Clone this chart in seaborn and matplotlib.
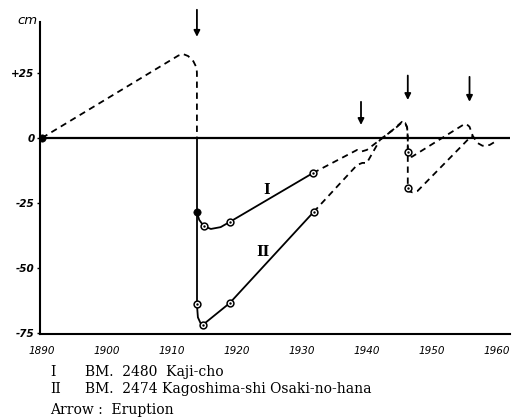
import matplotlib
matplotlib.use('Agg')
import matplotlib.pyplot as plt
import seaborn as sns

# levelling data (cm)
common_x = [1890, 1911.0, 1911.7, 1912.5, 1913.3, 1913.8, 1913.85, 1913.85]
common_y = [0, 31.7, 32.3, 31.5, 29.5, 27.0, 25.0, 0]

drop_x = [1913.85, 1913.85]
drop_y = [0, -64]

s1_x = [1913.85, 1914.2, 1914.9, 1916.0, 1917.5, 1918.9, 1931.7]
s1_y = [-28.5, -31.5, -33.9, -35.0, -34.3, -32.3, -13.5]
s1_dash_x = [1931.7, 1938.5, 1939.2, 1940.0, 1944.0, 1945.4, 1945.9, 1946.2, 1946.3, 1946.3,
             1946.9, 1954.8, 1955.3, 1955.8, 1956.3, 1957.0, 1957.8, 1958.9, 1959.7]
s1_dash_y = [-13.5, -4.6, -5.2, -4.6, 3.1, 6.2, 5.8, 4.0, 0, -5.4,
             -7.3, 5.0, 5.4, 4.3, 0.8, -1.9, -3.0, -2.7, -1.5]
s1_pts_x = [1914.9, 1918.9, 1931.7, 1946.3]
s1_pts_y = [-33.9, -32.3, -13.5, -5.4]

s2_x = [1913.85, 1914.0, 1914.4, 1914.8, 1918.9, 1931.8]
s2_y = [-64, -69, -71.2, -71.8, -63.5, -28.5]
s2_dash_x = [1931.8, 1938.5, 1939.3, 1940.0, 1942.0, 1944.6, 1945.4, 1945.9, 1946.2, 1946.3, 1946.3,
             1946.6, 1947.0, 1947.8, 1955.8, 1956.3]
s2_dash_y = [-28.5, -10.4, -9.6, -9.6, -0.8, 4.2, 6.0, 5.8, 4.0, 0, -19.2,
             -20.6, -20.9, -20.4, 0, 0.8]
s2_pts_x = [1913.85, 1914.8, 1918.9, 1931.8, 1946.3]
s2_pts_y = [-64, -71.8, -63.5, -28.5, -19.2]

filled_x = [1890, 1913.85]
filled_y = [0, -28.5]

eruptions = [1913.85, 1939.1, 1946.3, 1955.8]
arrow_top = [49.3, 13.9, 24.0, 23.5]
arrow_tip = [38.9, 5.0, 14.6, 13.9]

yticks = [25, 0, -25, -50, -75]
ytick_labels = ['+25', '0', '-25', '-50', '-75']
xticks = [1890, 1900, 1910, 1920, 1930, 1940, 1950, 1960]

sns.set_style('ticks')
plt.rcParams['font.family'] = ['DejaVu Sans']
plt.rcParams['text.color'] = 'k'
plt.rcParams['xtick.color'] = 'k'
plt.rcParams['ytick.color'] = 'k'

fig = plt.figure(figsize=(5.16, 4.19), dpi=100)
ax = fig.add_axes([0.0775, 0.2029, 0.9105, 0.7446])

lw = 1.3
dash = (3.5, 2.6)
sns.lineplot(x=common_x, y=common_y, sort=False, estimator=None, color='k', lw=lw, ax=ax)
ax.lines[-1].set_dashes(dash)
sns.lineplot(x=drop_x, y=drop_y, sort=False, estimator=None, color='k', lw=lw, ax=ax)
sns.lineplot(x=s1_x, y=s1_y, sort=False, estimator=None, color='k', lw=lw, ax=ax)
sns.lineplot(x=s2_x, y=s2_y, sort=False, estimator=None, color='k', lw=lw, ax=ax)
sns.lineplot(x=s1_dash_x, y=s1_dash_y, sort=False, estimator=None, color='k', lw=lw, ax=ax)
ax.lines[-1].set_dashes(dash)
sns.lineplot(x=s2_dash_x, y=s2_dash_y, sort=False, estimator=None, color='k', lw=lw, ax=ax)
ax.lines[-1].set_dashes(dash)

# station marks: open circle with centre dot
for px, py in [(s1_pts_x, s1_pts_y), (s2_pts_x, s2_pts_y)]:
    sns.scatterplot(x=px, y=py, s=24, facecolor='white', edgecolor='k', linewidth=1.1, zorder=4, ax=ax)
    sns.scatterplot(x=px, y=py, s=3, color='k', linewidth=0, zorder=5, ax=ax)
sns.scatterplot(x=filled_x, y=filled_y, s=28, color='k', edgecolor='k', zorder=5, ax=ax)

ax.axhline(0, color='k', lw=1.6, zorder=3)

for x, t, b in zip(eruptions, arrow_top, arrow_tip):
    ax.annotate('', xy=(x, b), xytext=(x, t), annotation_clip=False,
                arrowprops=dict(arrowstyle='-|>', color='k', lw=1.3, mutation_scale=9,
                                shrinkA=0, shrinkB=0))

ax.text(1924.6, -20, 'I', fontsize=10, fontweight='bold', family='DejaVu Serif', ha='center', va='center')
ax.text(1924.0, -44, 'II', fontsize=10, fontweight='bold', family='DejaVu Serif', ha='center', va='center')

ax.set_xlim(1889.7, 1962)
ax.set_ylim(-75.4, 44.6)
ax.set_xticks(xticks)
ax.set_xticklabels([str(v) for v in xticks], fontstyle='italic', fontsize=7.5)
ax.set_yticks(yticks)
ax.set_yticklabels(ytick_labels, fontstyle='italic', fontsize=7.5, fontweight='bold')
ax.tick_params(axis='x', length=0, pad=9)
ax.tick_params(axis='y', length=2, width=1, pad=2)
sns.despine(ax=ax)
for s in ['left', 'bottom']:
    ax.spines[s].set_linewidth(1.5)
    ax.spines[s].set_color('k')
ax.set_xlabel('')
ax.set_ylabel('')

fig.text(27 / 516, 1 - 20 / 419, 'cm', fontstyle='italic', fontsize=9.5, ha='center', va='center')

serif = dict(family='DejaVu Serif', fontsize=10, va='center', color='k')
fig.text(50 / 516, 1 - 372 / 419, 'I', **serif)
fig.text(85 / 516, 1 - 372 / 419, 'BM.  2480  Kaji-cho', **serif)
fig.text(50 / 516, 1 - 389 / 419, 'II', **serif)
fig.text(85 / 516, 1 - 389 / 419, 'BM.  2474 Kagoshima-shi Osaki-no-hana', **serif)
fig.text(50 / 516, 1 - 410 / 419, 'Arrow :  Eruption', **serif)

fig.savefig('out.png', dpi=100)
